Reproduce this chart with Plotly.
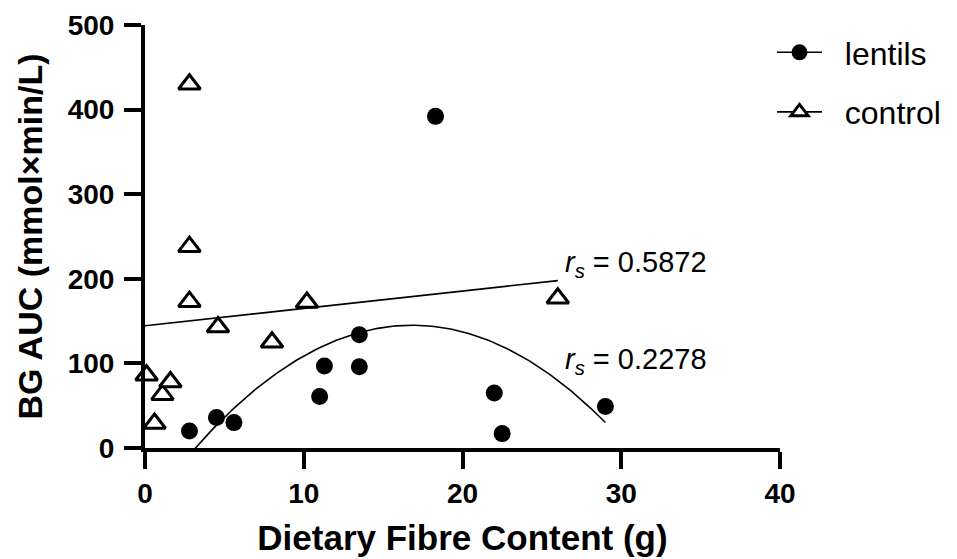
import numpy as np
import plotly.graph_objects as go

# ---- data ----
lentils_x = [2.8, 4.5, 5.6, 11.0, 11.3, 13.5, 13.5, 18.3, 22.0, 22.5, 29.0]
lentils_y = [20, 36, 30, 61, 97, 134, 96, 392, 65, 17, 49]

control_x = [0.1, 0.6, 1.1, 1.6, 2.8, 2.8, 2.8, 4.6, 8.0, 10.2, 26.0]
control_y = [86, 29, 63, 78, 173, 238, 430, 143, 125, 172, 177]

x_ticks = [0, 10, 20, 30, 40]
y_ticks = [0, 100, 200, 300, 400, 500]

rs_control = "0.5872"
rs_lentils = "0.2278"

FONT = "Liberation Sans, Arial, sans-serif"

# fits (linear for control, quadratic for lentils)
c_coef = np.polyfit(control_x, control_y, 1)
l_coef = np.polyfit(lentils_x, lentils_y, 2)
cx = np.linspace(0, max(control_x), 100)
lx = np.linspace(min(lentils_x), max(lentils_x), 200)

fig = go.Figure()

fig.add_trace(go.Scatter(x=cx, y=np.polyval(c_coef, cx), mode="lines",
                         line=dict(color="black", width=1.6), showlegend=False,
                         hoverinfo="skip"))
fig.add_trace(go.Scatter(x=lx, y=np.polyval(l_coef, lx), mode="lines",
                         line=dict(color="black", width=1.6), showlegend=False,
                         hoverinfo="skip"))

fig.add_trace(go.Scatter(x=lentils_x, y=lentils_y, mode="markers", name="lentils",
                         marker=dict(symbol="circle", size=17, color="black"),
                         cliponaxis=False, showlegend=False))
fig.add_trace(go.Scatter(x=control_x, y=control_y, mode="markers", name="control",
                         marker=dict(symbol="triangle-up", size=19, color="white",
                                     line=dict(color="black", width=3)),
                         cliponaxis=False, showlegend=False))

# legend-only entries (line through marker)
fig.add_trace(go.Scatter(x=[None], y=[None], mode="lines+markers",
                         name="\u00a0\u00a0lentils", legendgroup="a",
                         line=dict(color="black", width=1.6),
                         marker=dict(symbol="circle", size=16, color="black")))
fig.add_trace(go.Scatter(x=[None], y=[None], mode="lines+markers",
                         name="\u00a0\u00a0control", legendgroup="b",
                         line=dict(color="black", width=1.6),
                         marker=dict(symbol="triangle-up", size=15, color="white",
                                     line=dict(color="black", width=3))))

fig.add_annotation(x=26.3, y=218, xref="x", yref="y", showarrow=False,
                   xanchor="left", yanchor="middle",
                   text="<i>r</i><sub><i>s</i></sub> = " + rs_control,
                   font=dict(family=FONT, size=29, color="black"))
fig.add_annotation(x=26.3, y=103, xref="x", yref="y", showarrow=False,
                   xanchor="left", yanchor="middle",
                   text="<i>r</i><sub><i>s</i></sub> = " + rs_lentils,
                   font=dict(family=FONT, size=29, color="black"))

axis_common = dict(showline=True, linecolor="black", linewidth=4,
                   ticks="outside", ticklen=17, tickwidth=4, tickcolor="black",
                   showgrid=False, zeroline=False,
                   tickfont=dict(family=FONT, size=28, color="black", weight="bold"))

fig.update_xaxes(range=[0, 40], tickvals=x_ticks, ticktext=[str(v) for v in x_ticks],
                 title=dict(text="Dietary Fibre Content (g)", standoff=19,
                            font=dict(family=FONT, size=35, color="black", weight="bold")),
                 **axis_common)
fig.update_yaxes(range=[0, 500], tickvals=y_ticks, ticktext=[str(v) for v in y_ticks],
                 ticklabelstandoff=4,
                 title=dict(text="BG AUC (mmol×min/L)", standoff=16,
                            font=dict(family=FONT, size=34, color="black", weight="bold")),
                 **axis_common)

fig.update_layout(
    width=957, height=559,
    margin=dict(l=145, r=177, t=25, b=111, autoexpand=False),
    plot_bgcolor="white", paper_bgcolor="white",
    font=dict(family=FONT, color="black"),
    legend=dict(x=(772 - 145) / 635, y=1.0, xanchor="left", yanchor="top",
                font=dict(family=FONT, size=32, color="black"),
                itemwidth=45, tracegroupgap=15, bgcolor="rgba(0,0,0,0)"),
)

fig.write_html("out.html", config={"displayModeBar": False},
               post_script="document.body.style.margin='0';document.body.style.overflow='hidden';")
